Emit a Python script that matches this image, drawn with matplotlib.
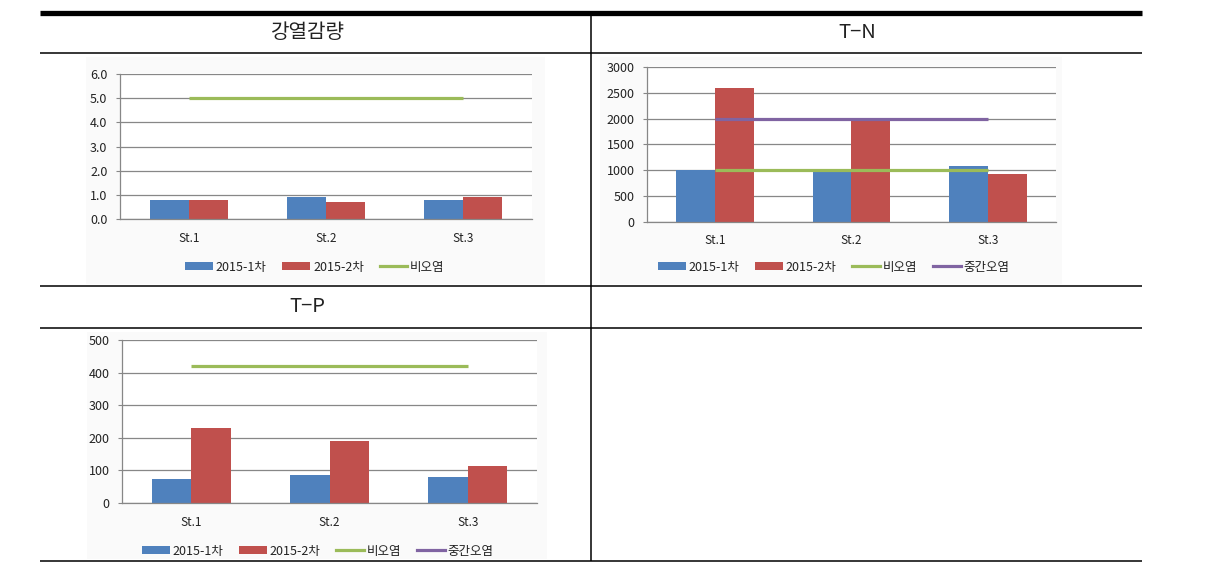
import numpy as np
import matplotlib
matplotlib.use("Agg")
import matplotlib.pyplot as plt
from matplotlib.patches import Patch, Rectangle
from matplotlib.lines import Line2D

plt.rcParams['font.family'] = ['Noto Sans CJK KR', 'DejaVu Sans']

# ---- data ----
stations = ['St.1', 'St.2', 'St.3']
series_names = ['2015-1차', '2015-2차', '비오염', '중간오염']

loi_1 = [0.8, 0.9, 0.8]
loi_2 = [0.8, 0.7, 0.9]
loi_clean = [5.0, 5.0, 5.0]

tn_1 = [1010, 990, 1090]
tn_2 = [2600, 2020, 930]
tn_clean = [1000, 1000, 1000]
tn_mid = [2000, 2000, 2000]

tp_1 = [75, 85, 80]
tp_2 = [230, 190, 115]
tp_clean = [420, 420, 420]
tp_mid = [np.nan, np.nan, np.nan]

titles = ['강열감량', 'T−N', 'T−P']

# ---- style ----
C_BLUE = '#4F81BD'
C_RED = '#C0504D'
C_GREEN = '#9BBB59'
C_PURPLE = '#8064A2'
GRID = '#878787'

W, H = 1206, 574
fig = plt.figure(figsize=(W / 100, H / 100), dpi=100)

# overlay for table lines / chart backgrounds
bg = fig.add_axes([0, 0, 1, 1], zorder=0)
bg.set_xlim(0, W)
bg.set_ylim(H, 0)
bg.axis('off')

for (l, t, r, b) in [(86, 57, 545, 284), (600, 57, 1062, 284), (87, 332, 547, 559)]:
    bg.add_patch(Rectangle((l, t), r - l, b - t, facecolor='#fafafa', edgecolor='none'))

bg.plot([40, 1142], [13, 13], color='black', lw=3.8, solid_capstyle='butt')
for y in [52.5, 286, 327.5, 560.5]:
    bg.plot([40, 1142], [y, y], color='black', lw=1.1, solid_capstyle='butt')
bg.plot([590.5, 590.5], [13, 561], color='black', lw=1.1, solid_capstyle='butt')

bg.text(308, 32, titles[0], ha='center', va='center', fontsize=14.5, color='#222222')
bg.text(857, 32, titles[1], ha='center', va='center', fontsize=14.5, color='#222222')
bg.text(307, 306, titles[2], ha='center', va='center', fontsize=14.5, color='#222222')


def ax_px(l, t, r, b):
    return fig.add_axes([l / W, 1 - b / H, (r - l) / W, (b - t) / H], zorder=2)


def draw(ax, s1, s2, lines, ymax, ystep, fmt):
    x = np.arange(len(stations))
    bw = 0.285
    ax.bar(x - bw / 2, s1, bw, color=C_BLUE, zorder=2)
    ax.bar(x + bw / 2, s2, bw, color=C_RED, zorder=2)
    for vals, col in lines:
        ax.plot(x, vals, color=col, lw=2.3, zorder=3, solid_capstyle='butt')
    ax.set_xlim(-0.5, len(stations) - 0.5)
    ax.set_ylim(0, ymax)
    ticks = np.arange(0, ymax + ystep / 2, ystep)
    ax.set_yticks(ticks)
    ax.set_yticklabels([fmt.format(v) for v in ticks])
    ax.set_xticks(x)
    ax.set_xticklabels(stations)
    ax.set_facecolor('white')
    for v in ticks:
        ax.axhline(v, color=GRID, lw=0.9, zorder=1)
    for s in ['top', 'right']:
        ax.spines[s].set_visible(False)
    for s in ['left', 'bottom']:
        ax.spines[s].set_color(GRID)
        ax.spines[s].set_linewidth(0.9)
    ax.tick_params(axis='y', length=3, width=0.8, color=GRID, pad=6, labelsize=9, labelcolor='#222222')
    ax.tick_params(axis='x', length=0, pad=9, labelsize=8.5, labelcolor='#222222')


def legend(cx, cy, n):
    handles = [Patch(facecolor=C_BLUE, edgecolor='none'),
               Patch(facecolor=C_RED, edgecolor='none'),
               Line2D([], [], color=C_GREEN, lw=2.3),
               Line2D([], [], color=C_PURPLE, lw=2.3)][:n]
    fig.legend(handles, series_names[:n], loc='center', bbox_to_anchor=(cx / W, 1 - cy / H),
               ncol=n, frameon=False, fontsize=9, handlelength=2.2, handleheight=0.6,
               handletextpad=0.25, columnspacing=1.25, borderpad=0, labelcolor='#222222')


a1 = ax_px(120, 74, 532, 219)
draw(a1, loi_1, loi_2, [(loi_clean, C_GREEN)], 6.0, 1.0, '{:.1f}')
legend(315, 267, 3)

a2 = ax_px(647, 67, 1056, 222)
draw(a2, tn_1, tn_2, [(tn_clean, C_GREEN), (tn_mid, C_PURPLE)], 3000, 500, '{:.0f}')
legend(834, 267, 4)

a3 = ax_px(122, 340, 537, 503)
draw(a3, tp_1, tp_2, [(tp_clean, C_GREEN), (tp_mid, C_PURPLE)], 500, 100, '{:.0f}')
legend(318, 551, 4)

fig.savefig('out.png', dpi=100)
